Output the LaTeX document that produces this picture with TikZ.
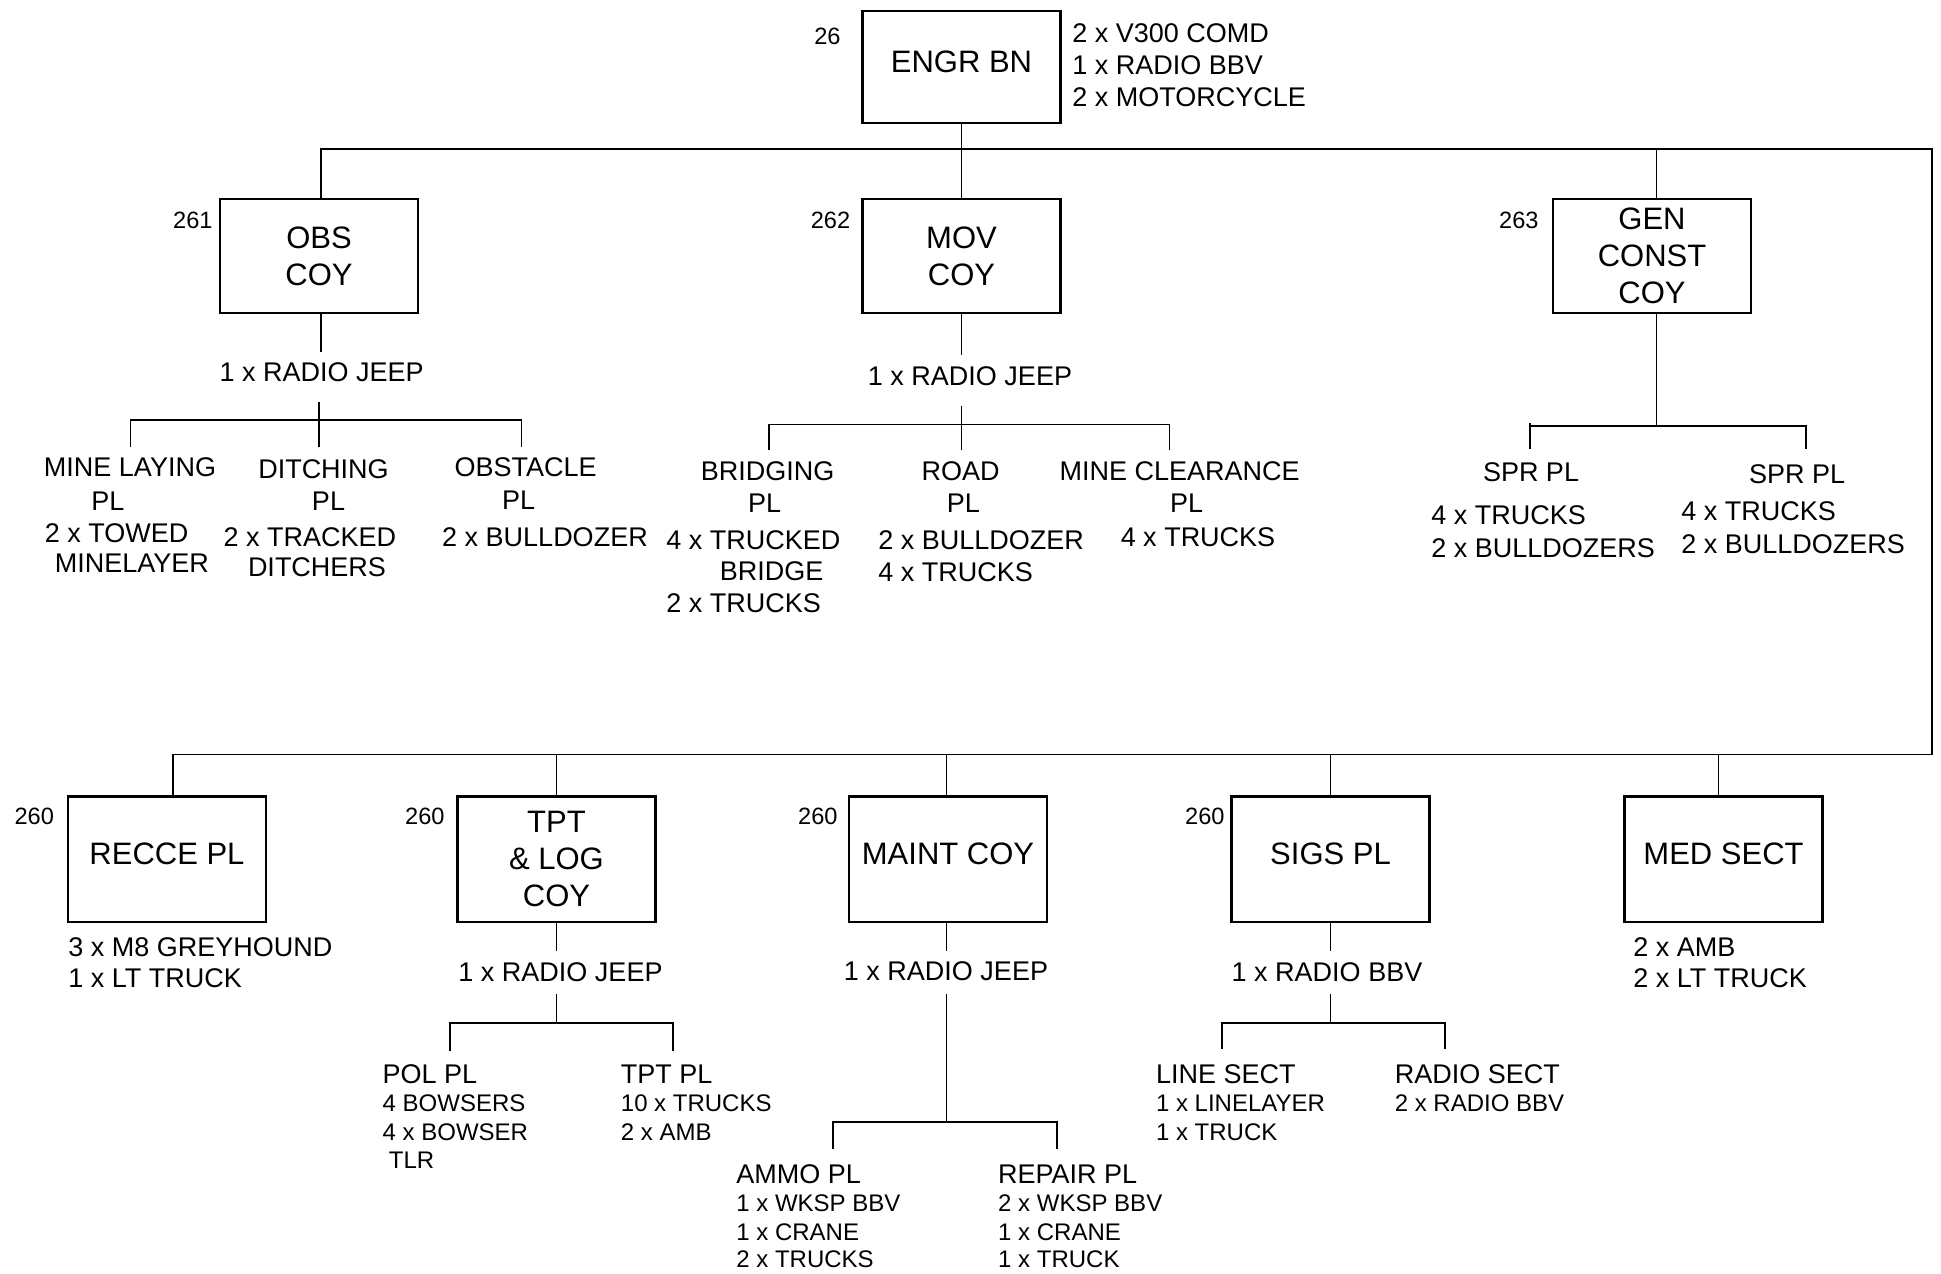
\documentclass[tikz,border=0pt]{standalone}
\usepackage{fontspec}
\setmainfont{Liberation Sans}
\usetikzlibrary{calc}
\begin{document}
\begin{tikzpicture}[x=0.5pt,y=-0.5pt,
  ln/.style={line width=0.95pt},
  boxbase/.style={draw, line width=1.2pt, minimum width=99pt, inner sep=0pt, font=\fontsize{15.5pt}{18.5pt}\selectfont},
  tbox/.style={boxbase, minimum height=57pt, align=center},
  ebox/.style={boxbase, minimum height=56pt, text depth=5pt},
  bbox/.style={boxbase, minimum height=62.75pt, align=center},
  b1box/.style={boxbase, minimum height=62.75pt, text depth=5.5pt},
  t/.style={inner sep=0pt, font=\fontsize{13.5pt}{16pt}\selectfont},
  s/.style={inner sep=0pt, font=\fontsize{12pt}{14pt}\selectfont},
  n/.style={inner sep=0pt, font=\fontsize{11.8pt}{14pt}\selectfont}]
\fill[white] (0,0) rectangle (1941,1273);
\useasboundingbox (0,0) rectangle (1941,1273);

% ---------- boxes ----------
\node[ebox] (engr) at (961.5,67) {ENGR BN};
\node[tbox] (obs) at (319,256) {OBS\\COY};
\node[tbox] (mov) at (961.5,256) {MOV\\COY};
\node[tbox] (gen) at (1652,256) {GEN\\CONST\\COY};
\node[b1box] (recce) at (167,859.4) {RECCE PL};
\node[bbox] (tpt) at (556.5,859.4) {TPT\\\& LOG\\COY};
\node[b1box] (maint) at (948,859.4) {MAINT COY};
\node[b1box] (sigs) at (1330.5,859.4) {SIGS PL};
\node[b1box] (med) at (1723.5,859.4) {MED SECT};

% ---------- numbers ----------
\node[n, anchor=base east] (n26) at (841,44.2) {26};
\node[n, anchor=base east] (n261) at (213,228.2) {261};
\node[n, anchor=base east] (n262) at (850.6,228.6) {262};
\node[n, anchor=base east] (n263) at (1539,228.2) {263};
\node[n, anchor=base east] (n260a) at (54.4,824.2) {260};
\node[n, anchor=base east] (n260b) at (445,824.2) {260};
\node[n, anchor=base east] (n260c) at (838,824.2) {260};
\node[n, anchor=base east] (n260d) at (1225,824.2) {260};

% ---------- ENGR BN side text ----------
\node[t, anchor=base west] (e1) at (1072,42.2) {2 x V300 COMD};
\node[t, anchor=base west] (e2) at (1072,74.7) {1 x RADIO BBV};
\node[t, anchor=base west] (e3) at (1072,106.7) {2 x MOTORCYCLE};

% ---------- OBS COY ----------
\node[t, anchor=base] (obsr) at (321.7,381.7) {1 x RADIO JEEP};
\node[t, anchor=base] (ml1) at (130,476.7) {MINE LAYING};
\node[t, anchor=base] (ml2) at (108,510.7) {PL};
\node[t, anchor=base west] (ml3) at (44.5,542.4) {2 x TOWED};
\node[t, anchor=base west] (ml4) at (54.4,572.7) {MINELAYER};
\node[t, anchor=base] (dt1) at (323.5,478.3) {DITCHING};
\node[t, anchor=base] (dt2) at (328.5,510.7) {PL};
\node[t, anchor=base] (dt3) at (310,546.4) {2 x TRACKED};
\node[t, anchor=base] (dt4) at (317,576.7) {DITCHERS};
\node[t, anchor=base] (ob1) at (525.6,476.7) {OBSTACLE};
\node[t, anchor=base] (ob2) at (518.7,509.7) {PL};
\node[t, anchor=base] (ob3) at (545,546.4) {2 x BULLDOZER};

% ---------- MOV COY ----------
\node[t, anchor=base] (movr) at (970,385.2) {1 x RADIO JEEP};
\node[t, anchor=base] (br1) at (767.5,480.3) {BRIDGING};
\node[t, anchor=base] (br2) at (764.6,512.7) {PL};
\node[t, anchor=base west] (br3) at (666,549.3) {4 x TRUCKED};
\node[t, anchor=base] (br4) at (771.7,580.7) {BRIDGE};
\node[t, anchor=base west] (br5) at (666,612.7) {2 x TRUCKS};
\node[t, anchor=base] (rd1) at (960.7,480.1) {ROAD};
\node[t, anchor=base west] (rd2) at (946.5,512.3) {PL};
\node[t, anchor=base west] (rd3) at (878,549.4) {2 x BULLDOZER};
\node[t, anchor=base west] (rd4) at (878,581.7) {4 x TRUCKS};
\node[t, anchor=base] (mc1) at (1179.7,480.3) {MINE CLEARANCE};
\node[t, anchor=base] (mc2) at (1186.5,512.7) {PL};
\node[t, anchor=base] (mc3) at (1198,546.4) {4 x TRUCKS};

% ---------- GEN CONST COY ----------
\node[t, anchor=base] (sp1) at (1531,481.7) {SPR PL};
\node[t, anchor=base] (sp2) at (1797,483.7) {SPR PL};
\node[t, anchor=base west] (sp1a) at (1431,524.7) {4 x TRUCKS};
\node[t, anchor=base west] (sp1b) at (1431,557.7) {2 x BULLDOZERS};
\node[t, anchor=base west] (sp2a) at (1681,520.7) {4 x TRUCKS};
\node[t, anchor=base west] (sp2b) at (1681,553.7) {2 x BULLDOZERS};

% ---------- RECCE ----------
\node[t, anchor=base west] (rc1) at (68,956.2) {3 x M8 GREYHOUND};
\node[t, anchor=base west] (rc2) at (68,987.7) {1 x LT TRUCK};

% ---------- TPT & LOG ----------
\node[t, anchor=base] (tptr) at (560.5,981.2) {1 x RADIO JEEP};
\node[t, anchor=base west] (pol) at (382.3,1083.2) {POL PL};
\node[s, anchor=base west] (pol1) at (382.3,1111.6) {4 BOWSERS};
\node[s, anchor=base west] (pol2) at (382.3,1140.6) {4 x BOWSER};
\node[s, anchor=base west] (pol3) at (388.5,1168.6) {TLR};
\node[t, anchor=base west] (tp) at (620.5,1083.2) {TPT PL};
\node[s, anchor=base west] (tp1) at (620.5,1111.6) {10 x TRUCKS};
\node[s, anchor=base west] (tp2) at (620.5,1140.6) {2 x AMB};

% ---------- MAINT ----------
\node[t, anchor=base] (maintr) at (946,980.2) {1 x RADIO JEEP};
\node[t, anchor=base west] (am) at (736,1183.7) {AMMO PL};
\node[s, anchor=base west] (am1) at (736,1211.1) {1 x WKSP BBV};
\node[s, anchor=base west] (am2) at (736,1240.6) {1 x CRANE};
\node[s, anchor=base west] (am3) at (736,1267.6) {2 x TRUCKS};
\node[t, anchor=base west] (rp) at (997.8,1183.7) {REPAIR PL};
\node[s, anchor=base west] (rp1) at (997.8,1211.1) {2 x WKSP BBV};
\node[s, anchor=base west] (rp2) at (997.8,1240.6) {1 x CRANE};
\node[s, anchor=base west] (rp3) at (997.8,1267.6) {1 x TRUCK};

% ---------- SIGS ----------
\node[t, anchor=base] (sigsr) at (1327,981.2) {1 x RADIO BBV};
\node[t, anchor=base west] (ls) at (1155.6,1083.2) {LINE SECT};
\node[s, anchor=base west] (ls1) at (1155.6,1111.6) {1 x LINELAYER};
\node[s, anchor=base west] (ls2) at (1155.6,1140.6) {1 x TRUCK};
\node[t, anchor=base west] (rs) at (1394.4,1083.2) {RADIO SECT};
\node[s, anchor=base west] (rs1) at (1394.4,1111.6) {2 x RADIO BBV};

% ---------- MED ----------
\node[t, anchor=base west] (md1) at (1633,956.2) {2 x AMB};
\node[t, anchor=base west] (md2) at (1633,987.7) {2 x LT TRUCK};

% ---------- main connectors ----------
\coordinate (tr) at (1932,149);
\coordinate (br) at (1932,754.5);
\coordinate (obsT) at ($(obs.north)+(2,0)$);
\coordinate (genT) at ($(gen.north)+(4.5,0)$);
\coordinate (recT) at ($(recce.north)+(6,0)$);
\coordinate (maiT) at ($(maint.north)+(-1.5,0)$);
\coordinate (medT) at ($(med.north)+(-5,0)$);
\draw[ln] (engr.south) -- (mov.north);
\draw[ln] (obsT) |- (tr) -- (br) -| (recT);
\draw[ln] (genT) -- (genT |- tr);
\draw[ln] (tpt.north) -- (tpt.north |- br);
\draw[ln] (maiT) -- (maiT |- br);
\draw[ln] (sigs.north) -- (sigs.north |- br);
\draw[ln] (medT) -- (medT |- br);

% OBS sub
\draw[ln, shorten >=5pt] (obsT |- obs.south) -- (obsT |- obsr.north);
\coordinate (obsL) at (130.5,420);
\coordinate (obsR) at (521.5,420);
\draw[ln] ($(obsL)+(0,27)$) -- (obsL) -- (obsR) -- ++(0,27);
\draw[ln, shorten <=10pt] (obs.south |- obsr.south) -- ($(obs.south |- obsL)+(0,27)$);

% MOV sub
\draw[ln, shorten >=5.5pt] (mov.south) -- (mov.south |- movr.north);
\coordinate (movL) at (769,424.5);
\coordinate (movR) at (1169.5,424.5);
\draw[ln] ($(movL)+(0,25)$) -- (movL) -- (movR) -- ++(0,25);
\draw[ln, shorten <=10pt] (mov.south |- movr.south) -- ($(mov.south |- movL)+(0,25)$);

% GEN sub
\coordinate (genL) at (1530,426);
\coordinate (genR) at (1806,426);
\draw[ln] (genT |- gen.south) -- (genT |- genL);
\draw[ln] ($(genL)+(0,23)$) -- ($(genL)+(0,-3)$) -- (genL) -- (genR) -- ++(0,23);

% TPT sub
\draw[ln, shorten >=5.5pt] (tpt.south) -- (tpt.south |- tptr.north);
\coordinate (tptL) at (449.7,1023);
\coordinate (tptR) at (673,1023);
\draw[ln] ($(tptL)+(0,27.5)$) -- (tptL) -- (tptR) -- ++(0,27.5);
\draw[ln, shorten <=6pt] (tpt.south |- tptr.south) -- (tpt.south |- tptL);

% MAINT sub
\draw[ln, shorten >=5pt] (maiT |- maint.south) -- (maiT |- maintr.north);
\coordinate (mntL) at (833,1122);
\coordinate (mntR) at (1056.6,1122);
\draw[ln] ($(mntL)+(0,27)$) -- (mntL) -- (mntR) -- ++(0,27);
\draw[ln, shorten <=6.5pt] (maiT |- maintr.south) -- (maiT |- mntL);

% SIGS sub
\draw[ln, shorten >=5.5pt] (sigs.south) -- (sigs.south |- sigsr.north);
\coordinate (sgL) at (1222.4,1023);
\coordinate (sgR) at (1445,1023);
\draw[ln] ($(sgL)+(0,26)$) -- (sgL) -- (sgR) -- ++(0,26);
\draw[ln, shorten <=6pt] (sigs.south |- sigsr.south) -- (sigs.south |- sgL);
\end{tikzpicture}
\end{document}
